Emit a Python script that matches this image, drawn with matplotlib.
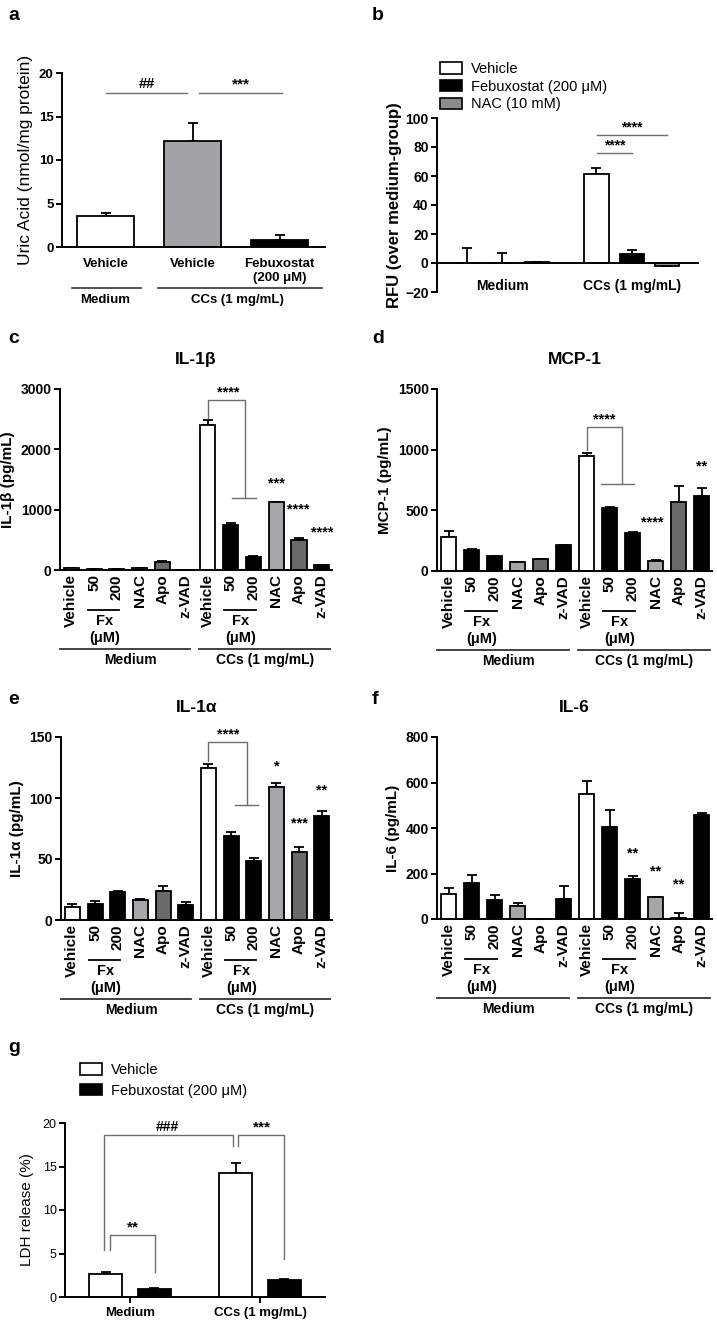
import numpy as np
import matplotlib.pyplot as plt
import matplotlib.transforms as mtransforms
from matplotlib.patches import Patch

plt.rcParams['font.family'] = ['Liberation Sans', 'DejaVu Sans']
plt.rcParams['axes.linewidth'] = 1.4
plt.rcParams['xtick.major.width'] = 1.4
plt.rcParams['ytick.major.width'] = 1.4

# ---- data ----
# panel a: uric acid
a_labels = ['Vehicle', 'Vehicle', 'Febuxostat\n(200 μM)']
a_vals = [3.6, 12.2, 0.85]
a_err = [0.35, 2.1, 0.5]

# panel b: RFU
b_groups = ['Medium', 'CCs (1 mg/mL)']
b_series = ['Vehicle', 'Febuxostat (200 μM)', 'NAC (10 mM)']
b_vehicle = [0.0, 61.5]
b_vehicle_err = [10.5, 4.0]
b_febux = [0.0, 6.0]
b_febux_err = [7.0, 3.0]
b_nac = [0.5, -2.0]
b_nac_err = [0.3, 0.0]

# panels c-f: cytokines
conds = ['Vehicle', '50', '200', 'NAC', 'Apo', 'z-VAD'] * 2
il1b = [30, 15, 15, 30, 130, 5, 2410, 750, 220, 1120, 500, 80]
il1b_err = [8, 5, 5, 8, 15, 2, 80, 30, 10, 10, 30, 10]
mcp1 = [280, 175, 120, 75, 95, 215, 945, 520, 315, 85, 570, 620]
mcp1_err = [50, 10, 5, 3, 5, 3, 25, 5, 10, 3, 130, 60]
il1a = [11, 13, 23, 16, 24, 12, 125, 69, 48, 109, 56, 85]
il1a_err = [2, 2.5, 1, 1, 4, 3, 3, 3, 2.5, 3, 3.5, 4]
il6 = [112, 158, 85, 55, 0, 87, 550, 405, 178, 97, 5, 458]
il6_err = [23, 37, 20, 17, 0, 58, 58, 75, 12, 1, 23, 7]

# panel g: LDH
g_groups = ['Medium', 'CCs (1 mg/mL)']
g_series = ['Vehicle', 'Febuxostat (200 μM)']
g_vehicle = [2.7, 14.2]
g_vehicle_err = [0.15, 1.2]
g_febux = [0.95, 1.9]
g_febux_err = [0.1, 0.2]

LIGHT = '#a6a6aa'
DARK = '#6a6a6a'
cond_colors = ['white', 'black', 'black', LIGHT, DARK, 'black'] * 2
BR = '#6e6e6e'

W, H = 717, 1322
fig = plt.figure(figsize=(W / 100, H / 100), dpi=100)


def add_ax(left, right, top, bottom):
    return fig.add_axes([left / W, 1 - bottom / H, (right - left) / W, (bottom - top) / H])


def style(ax, bold=True, size=10):
    ax.spines['top'].set_visible(False)
    ax.spines['right'].set_visible(False)
    ax.tick_params(axis='y', length=4, labelsize=size, pad=2)
    ax.tick_params(axis='x', length=0)
    if bold:
        for t in ax.get_yticklabels():
            t.set_fontweight('bold')


def bars(ax, x, vals, err, colors, width):
    ax.errorbar(x, vals, yerr=[np.zeros(len(vals)), err], fmt='none', ecolor='black',
                elinewidth=1.3, capsize=3.5, capthick=1.3, zorder=1)
    ax.bar(x, vals, width=width, color=colors, edgecolor='black', linewidth=1.3, zorder=2)


def line(ax, xs, ys, color=BR, lw=1.0):
    ax.plot(xs, ys, color=color, lw=lw, clip_on=False, zorder=3)


def letter(x, y, s):
    fig.text(x / W, 1 - y / H, s, fontsize=14, fontweight='bold', ha='left', va='center')


# ---- panel a ----
ax = add_ax(62, 325, 73, 247)
xa = np.arange(3)
bars(ax, xa, a_vals, a_err, ['white', '#a3a3a7', 'black'], 0.66)
ax.set_xlim(-0.5, 2.52)
ax.set_ylim(0, 20)
ax.set_yticks([0, 5, 10, 15, 20])
ax.set_xticks(xa)
ax.set_xticklabels(a_labels, fontweight='bold', fontsize=9.5)
ax.tick_params(axis='x', pad=8)
style(ax, size=9.5)
ax.set_ylabel('Uric Acid (nmol/mg protein)', fontsize=12.5, labelpad=4)
line(ax, [0.0, 0.94], [17.7, 17.7])
line(ax, [1.07, 2.03], [17.7, 17.7])
ax.text(0.47, 17.9, '##', ha='center', va='bottom', fontsize=10.5, fontweight='bold')
ax.text(1.55, 17.9, '***', ha='center', va='bottom', fontsize=11, fontweight='bold')
tr = mtransforms.blended_transform_factory(ax.transData, ax.transAxes)
h = 174.0
ax.plot([-0.39, 0.41], [-41 / h] * 2, transform=tr, color='#333333', lw=1.2, clip_on=False)
ax.plot([0.6, 2.49], [-41 / h] * 2, transform=tr, color='#333333', lw=1.2, clip_on=False)
ax.text(0.0, -53 / h, 'Medium', transform=tr, ha='center', va='center', fontsize=9.5, fontweight='bold')
ax.text(1.52, -53 / h, 'CCs (1 mg/mL)', transform=tr, ha='center', va='center', fontsize=9.5,
        fontweight='bold')
letter(8, 15, 'a')

# ---- panel b ----
ax = add_ax(437, 698, 118, 292)
xg = np.arange(2)
off = 0.273
wb = 0.185
bars(ax, xg - off, b_vehicle, b_vehicle_err, 'white', wb)
bars(ax, xg, b_febux, b_febux_err, 'black', wb)
bars(ax, xg + off, b_nac, b_nac_err, '#8c8c8c', wb)
ax.set_xlim(-0.5, 1.508)
ax.set_ylim(-20, 100)
ax.set_yticks(np.arange(-20, 101, 20))
ax.set_xticks([])
ax.spines['bottom'].set_position(('data', 0))
style(ax, size=10)
ax.set_ylabel('RFU (over medium-group)', fontsize=12, fontweight='bold', labelpad=2)
for gx, gl in zip(xg, b_groups):
    ax.text(gx, -16, gl, ha='center', va='center', fontsize=10, fontweight='bold')
line(ax, [0.73, 1.27], [88, 88])
line(ax, [0.73, 1.0], [76, 76])
ax.text(1.0, 88.5, '****', ha='center', va='bottom', fontsize=10, fontweight='bold')
ax.text(0.865, 76.5, '****', ha='center', va='bottom', fontsize=10, fontweight='bold')
handles = [Patch(facecolor=c, edgecolor='black', linewidth=1.2) for c in ['white', 'black', '#8c8c8c']]
fig.legend(handles, b_series, loc='upper left', bbox_to_anchor=(440 / W, 1 - 62 / H), frameon=False,
           fontsize=10.5, handlelength=1.5, handleheight=0.8, labelspacing=0.25, handletextpad=0.6,
           borderaxespad=0, borderpad=0)
letter(372, 15, 'b')


# ---- cytokine panels ----
def cyto(left, right, top, bottom, vals, err, ymax, step, title, ylabel, colors=None):
    ax = add_ax(left, right, top, bottom)
    x = np.arange(12)
    bars(ax, x, vals, err, colors or cond_colors, 0.66)
    ax.set_xlim(-0.5, 11.45)
    ax.set_ylim(0, ymax)
    ax.set_yticks(np.arange(0, ymax + 1, step))
    ax.set_xticks(x)
    ax.set_xticklabels(conds, rotation=90, fontweight='bold', fontsize=11)
    ax.tick_params(axis='x', pad=3)
    style(ax, size=10)
    ax.set_ylabel(ylabel, fontsize=11, fontweight='bold', labelpad=4)
    ax.set_title(title, fontsize=12.5, fontweight='bold', pad=18)
    tr = mtransforms.blended_transform_factory(ax.transData, ax.transAxes)
    hp = float(bottom - top)
    f = lambda p: -p / hp
    for g0 in (0, 6):
        ax.plot([g0 + 0.72, g0 + 2.1], [f(40)] * 2, transform=tr, color='black', lw=1.3, clip_on=False)
        ax.text(g0 + 1.45, f(51), 'Fx', transform=tr, ha='center', va='center', fontsize=10.5,
                fontweight='bold')
        ax.text(g0 + 1.45, f(68), '(μM)', transform=tr, ha='center', va='center', fontsize=10.5,
                fontweight='bold')
    ax.plot([-0.48, 5.22], [f(79)] * 2, transform=tr, color='#333333', lw=1.3, clip_on=False)
    ax.plot([5.61, 11.36], [f(79)] * 2, transform=tr, color='#333333', lw=1.3, clip_on=False)
    ax.text(2.6, f(90), 'Medium', transform=tr, ha='center', va='center', fontsize=10, fontweight='bold')
    ax.text(8.5, f(90), 'CCs (1 mg/mL)', transform=tr, ha='center', va='center', fontsize=10,
            fontweight='bold')
    return ax


def stars(ax, x, y, s):
    ax.text(x, y, s, ha='center', va='center', fontsize=10.5, fontweight='bold', zorder=4)


# c: IL-1b
ax = cyto(60, 332, 389, 570, il1b, il1b_err, 3000, 1000, 'IL-1β', 'IL-1β (pg/mL)')
line(ax, [6, 6, 7.63, 7.63], [2520, 2818, 2818, 1193])
line(ax, [7.06, 8.11], [1193, 1193])
ax.text(6.9, 2830, '****', ha='center', va='bottom', fontsize=10.5, fontweight='bold')
stars(ax, 9, 1440, '***')
stars(ax, 9.96, 1010, '****')
stars(ax, 11.0, 630, '****')
letter(8, 338, 'c')

# d: MCP-1
ax = cyto(437, 712, 389, 571, mcp1, mcp1_err, 1500, 500, 'MCP-1', 'MCP-1 (pg/mL)')
line(ax, [6, 6, 7.54, 7.54], [1000, 1187, 1187, 717])
line(ax, [6.64, 8.06], [717, 717])
ax.text(6.77, 1195, '****', ha='center', va='bottom', fontsize=10.5, fontweight='bold')
stars(ax, 8.84, 404, '****')
stars(ax, 11, 865, '**')
letter(372, 338, 'd')

# e: IL-1a
ax = cyto(61, 332, 737, 920, il1a, il1a_err, 150, 50, 'IL-1α', 'IL-1α (pg/mL)')
line(ax, [6, 6, 7.72, 7.72], [130, 146, 146, 94])
line(ax, [7.19, 8.2], [94, 94])
ax.text(6.89, 146.5, '****', ha='center', va='bottom', fontsize=10.5, fontweight='bold')
stars(ax, 9, 126, '*')
stars(ax, 11, 106, '**')
stars(ax, 10, 79, '***')
letter(8, 700, 'e')

# f: IL-6
ax = cyto(437, 712, 737, 919, il6, il6_err, 800, 200, 'IL-6', 'IL-6 (pg/mL)')
stars(ax, 8, 290, '**')
stars(ax, 9, 207, '**')
stars(ax, 10, 150, '**')
letter(372, 700, 'f')

# ---- panel g ----
ax = add_ax(65, 325, 1123, 1297)
og = 0.188
wg = 0.254
bars(ax, xg - og, g_vehicle, g_vehicle_err, 'white', wg)
bars(ax, xg + og, g_febux, g_febux_err, 'black', wg)
ax.set_xlim(-0.5, 1.5)
ax.set_ylim(0, 20)
ax.set_yticks([0, 5, 10, 15, 20])
ax.set_xticks(xg)
ax.set_xticklabels(g_groups, fontweight='bold', fontsize=9.5)
style(ax, bold=False, size=9)
ax.tick_params(axis='x', length=4, pad=3)
ax.set_ylabel('LDH release (%)', fontsize=11, labelpad=6)
line(ax, [-0.2, -0.2, 0.79, 0.79], [5.4, 18.6, 18.6, 17.4])
line(ax, [0.83, 0.83, 1.185, 1.185], [17.4, 18.6, 18.6, 4.4])
line(ax, [-0.154, -0.154, 0.19, 0.19], [5.4, 7.1, 7.1, 2.9])
ax.text(0.29, 18.7, '###', ha='center', va='bottom', fontsize=10, fontweight='bold')
ax.text(1.015, 18.7, '***', ha='center', va='bottom', fontsize=11, fontweight='bold')
ax.text(0.02, 7.2, '**', ha='center', va='bottom', fontsize=11, fontweight='bold')
handles = [Patch(facecolor=c, edgecolor='black', linewidth=1.2) for c in ['white', 'black']]
fig.legend(handles, g_series, loc='upper left', bbox_to_anchor=(80 / W, 1 - 1063 / H), frameon=False,
           fontsize=10.5, handlelength=1.5, handleheight=0.8, labelspacing=0.45, handletextpad=0.6,
           borderaxespad=0, borderpad=0)
letter(8, 1048, 'g')

fig.savefig('out.png', dpi=100)
